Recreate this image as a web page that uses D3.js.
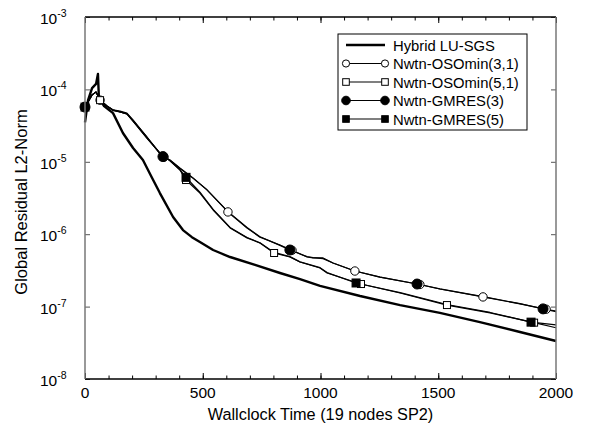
<!DOCTYPE html>
<html>
<head>
<meta charset="utf-8">
<script src="https://cdn.jsdelivr.net/npm/d3@7"></script>
<style>
    body { margin: 0; background: #fff; }
    svg { font-family: "Liberation Sans", Arial, sans-serif; }
</style>
</head>
<body>
<div class="graph"></div>
<script>
// Wallclock times (s) and residuals
const hybridT = [0, 13, 30, 47, 55, 59, 81, 119, 161, 204, 246, 285, 318, 374, 416, 454, 488, 544, 616, 722, 828, 913, 998, 1168, 1338, 1507, 1677, 1847, 2000];
const hybridR = [3.5e-5, 7.1e-5, 1.04e-4, 1.19e-4, 1.63e-4, 7.6e-5, 5.9e-5, 4.7e-5, 2.5e-5, 1.55e-5, 1.06e-5, 5.97e-6, 3.7e-6, 1.73e-6, 1.14e-6, 9.1e-7, 7.8e-7, 6.05e-7, 4.84e-7, 3.76e-7, 2.91e-7, 2.4e-7, 1.93e-7, 1.4e-7, 1.05e-7, 8.2e-8, 6.1e-8, 4.46e-8, 3.35e-8];

const oso31T = [0, 30, 47, 64, 93, 119, 149, 178, 204, 263, 318, 335, 361, 403, 459, 518, 607, 688, 743, 828, 879, 943, 968, 1011, 1053, 1146, 1253, 1422, 1507, 1690, 1847, 1958, 2000];
const oso31R = [5.7e-5, 8.4e-5, 9.2e-5, 7.1e-5, 5.9e-5, 5.2e-5, 5.0e-5, 4.7e-5, 3.8e-5, 2.2e-5, 1.32e-5, 1.16e-5, 1.06e-5, 8.2e-6, 6.0e-6, 4.1e-6, 2.03e-6, 1.22e-6, 9.1e-7, 7.1e-7, 6.0e-7, 4.84e-7, 4.7e-7, 4.7e-7, 4.0e-7, 3.1e-7, 2.56e-7, 2.02e-7, 1.75e-7, 1.36e-7, 1.09e-7, 9.2e-8, 8.7e-8];
const oso31Marks = [64, 335, 607, 879, 1146, 1422, 1690, 1958];

const oso51T = [0, 30, 47, 64, 93, 119, 149, 178, 204, 263, 318, 361, 403, 429, 488, 544, 616, 688, 743, 803, 870, 913, 998, 1028, 1172, 1338, 1537, 1720, 1907, 2000];
const oso51R = [5.7e-5, 8.4e-5, 9.2e-5, 7.1e-5, 5.9e-5, 5.2e-5, 4.9e-5, 4.6e-5, 3.66e-5, 2.13e-5, 1.32e-5, 1.03e-5, 7.7e-6, 5.6e-6, 3.7e-6, 2.16e-6, 1.22e-6, 8.9e-7, 7.55e-7, 5.5e-7, 4.84e-7, 4.13e-7, 3.41e-7, 2.91e-7, 2.05e-7, 1.54e-7, 1.05e-7, 8.2e-8, 6.0e-8, 5.1e-8];
const oso51Marks = [64, 429, 803, 1172, 1537, 1907];

const gm3T = [0, 30, 47, 64, 93, 119, 149, 178, 204, 263, 318, 331, 361, 403, 459, 518, 607, 688, 743, 828, 870, 943, 968, 1011, 1053, 1146, 1253, 1410, 1507, 1690, 1847, 1945, 2000];
const gm3R = [5.7e-5, 8.4e-5, 9.2e-5, 7.1e-5, 5.9e-5, 5.1e-5, 4.9e-5, 4.6e-5, 3.7e-5, 2.2e-5, 1.3e-5, 1.18e-5, 1.05e-5, 8.1e-6, 5.9e-6, 4.1e-6, 2.05e-6, 1.24e-6, 9.2e-7, 7.0e-7, 6.05e-7, 4.9e-7, 4.75e-7, 4.6e-7, 4.0e-7, 3.1e-7, 2.55e-7, 2.05e-7, 1.76e-7, 1.37e-7, 1.1e-7, 9.3e-8, 8.5e-8];
const gm3Marks = [0, 331, 870, 1410, 1945];

const gm5T = [0, 30, 47, 64, 93, 119, 149, 178, 204, 263, 318, 361, 403, 429, 488, 544, 616, 688, 743, 803, 870, 913, 998, 1028, 1151, 1338, 1537, 1720, 1894, 2000];
const gm5R = [5.7e-5, 8.4e-5, 9.2e-5, 7.1e-5, 5.9e-5, 5.2e-5, 4.9e-5, 4.6e-5, 3.66e-5, 2.13e-5, 1.32e-5, 1.03e-5, 7.8e-6, 6.1e-6, 3.8e-6, 2.2e-6, 1.24e-6, 9.0e-7, 7.6e-7, 5.6e-7, 4.9e-7, 4.15e-7, 3.45e-7, 2.95e-7, 2.12e-7, 1.56e-7, 1.07e-7, 8.3e-8, 6.1e-8, 5.6e-8];
const gm5Marks = [0, 429, 1151, 1894];

const seriesNames = ["Hybrid LU-SGS", "Nwtn-OSOmin(3,1)", "Nwtn-OSOmin(5,1)", "Nwtn-GMRES(3)", "Nwtn-GMRES(5)"];
const xTicks = [0, 500, 1000, 1500, 2000];
const yTicks = [1e-8, 1e-7, 1e-6, 1e-5, 1e-4, 1e-3];
const yExponents = ["-8", "-7", "-6", "-5", "-4", "-3"];

const dimensions = {
    width: 597,
    height: 425,
    margins: { top: 17, right: 41, bottom: 46, left: 85 }
};
dimensions.boundedWidth = dimensions.width - dimensions.margins.left - dimensions.margins.right;
dimensions.boundedHeight = dimensions.height - dimensions.margins.top - dimensions.margins.bottom;

const wrapper = d3.select(".graph")
    .append("svg")
        .attr("width", dimensions.width)
        .attr("height", dimensions.height);

const bounds = wrapper.append("g")
    .attr("transform", `translate(${dimensions.margins.left},${dimensions.margins.top})`);

const xScale = d3.scaleLinear()
    .domain([0, 2000])
    .range([0, dimensions.boundedWidth]);

const yScale = d3.scaleLog()
    .domain([1e-8, 1e-3])
    .range([dimensions.boundedHeight, 0]);

// series: line points plus where the markers sit
function zip(T, R) {
    return T.map((t, i) => ({ t: t, r: R[i] }));
}
const series = [
    { name: seriesNames[0], data: zip(hybridT, hybridR), marks: [], width: 2.4, symbol: null },
    { name: seriesNames[1], data: zip(oso31T, oso31R), marks: oso31Marks, width: 1.2, symbol: "circle", filled: false },
    { name: seriesNames[2], data: zip(oso51T, oso51R), marks: oso51Marks, width: 1.2, symbol: "square", filled: false },
    { name: seriesNames[3], data: zip(gm3T, gm3R), marks: gm3Marks, width: 1.2, symbol: "circle", filled: true },
    { name: seriesNames[4], data: zip(gm5T, gm5R), marks: gm5Marks, width: 1.2, symbol: "square", filled: true }
];

function drawMarker(sel, s) {
    if (s.symbol === "circle") {
        sel.append("circle")
            .attr("r", s.filled ? 5 : 4.2)
            .attr("fill", s.filled ? "black" : "white")
            .attr("stroke", "black")
            .attr("stroke-width", 1);
    } else if (s.symbol === "square") {
        const size = s.filled ? 8 : 7;
        sel.append("rect")
            .attr("x", -size / 2)
            .attr("y", -size / 2)
            .attr("width", size)
            .attr("height", size)
            .attr("fill", s.filled ? "black" : "white")
            .attr("stroke", "black")
            .attr("stroke-width", 1);
    }
}

// lines
const lineGenerator = d3.line()
    .x(d => xScale(d.t))
    .y(d => yScale(d.r));

const plot = bounds.append("g");
series.forEach(s => {
    plot.append("path")
        .attr("d", lineGenerator(s.data))
        .attr("fill", "none")
        .attr("stroke", "black")
        .attr("stroke-width", s.width)
        .attr("stroke-linejoin", "round");
});
// markers on top
series.forEach(s => {
    const pts = s.data.filter(d => s.marks.includes(d.t));
    pts.forEach(d => {
        const g = plot.append("g")
            .attr("transform", `translate(${xScale(d.t)},${yScale(d.r)})`);
        drawMarker(g, s);
    });
});

// axes, ticks pointing inward
const minorX = d3.range(0, 2001, 100);
function styleAxis(g, color) {
    g.select(".domain").remove();
    g.selectAll("line").attr("stroke", color).attr("stroke-width", 1);
}
bounds.append("g")
    .attr("transform", `translate(0,${dimensions.boundedHeight})`)
    .call(d3.axisBottom(xScale).tickValues(minorX).tickSize(-3.5).tickFormat(""))
    .call(g => styleAxis(g, "black"));
bounds.append("g")
    .attr("transform", `translate(0,${dimensions.boundedHeight})`)
    .call(d3.axisBottom(xScale).tickValues(xTicks).tickSize(-6).tickFormat(""))
    .call(g => styleAxis(g, "black"));
bounds.append("g")
    .call(d3.axisTop(xScale).tickValues(minorX).tickSize(-3.5).tickFormat(""))
    .call(g => styleAxis(g, "black"));
bounds.append("g")
    .call(d3.axisTop(xScale).tickValues(xTicks).tickSize(-6).tickFormat(""))
    .call(g => styleAxis(g, "black"));
bounds.append("g")
    .call(d3.axisLeft(yScale).tickValues(yTicks).tickSize(-5).tickFormat(""))
    .call(g => styleAxis(g, "#555"));
bounds.append("g")
    .attr("transform", `translate(${dimensions.boundedWidth},0)`)
    .call(d3.axisRight(yScale).tickValues(yTicks).tickSize(-5).tickFormat(""))
    .call(g => styleAxis(g, "#555"));

// frame
bounds.append("line").attr("x1", 0).attr("x2", dimensions.boundedWidth)
    .attr("y1", 0).attr("y2", 0).attr("stroke", "black").attr("stroke-width", 1.3);
bounds.append("line").attr("x1", 0).attr("x2", dimensions.boundedWidth)
    .attr("y1", dimensions.boundedHeight).attr("y2", dimensions.boundedHeight)
    .attr("stroke", "black").attr("stroke-width", 1.3);
bounds.append("line").attr("x1", 0).attr("x2", 0)
    .attr("y1", 0).attr("y2", dimensions.boundedHeight).attr("stroke", "#777").attr("stroke-width", 1.5);
bounds.append("line").attr("x1", dimensions.boundedWidth).attr("x2", dimensions.boundedWidth)
    .attr("y1", 0).attr("y2", dimensions.boundedHeight).attr("stroke", "#777").attr("stroke-width", 1.5);

// tick labels
bounds.append("g")
    .selectAll("text")
    .data(xTicks)
    .join("text")
        .attr("x", d => xScale(d))
        .attr("y", dimensions.boundedHeight + 19)
        .attr("text-anchor", "middle")
        .attr("font-size", 15.5)
        .text(d => d);

const yLabels = bounds.append("g")
    .selectAll("text")
    .data(yTicks)
    .join("text")
        .attr("x", -45)
        .attr("y", d => yScale(d) + 7)
        .attr("font-size", 15.5);
yLabels.append("tspan").text("10");
yLabels.append("tspan")
    .attr("dy", -7)
    .attr("font-size", 10.5)
    .text((d, i) => yExponents[i]);

// axis titles
wrapper.append("text")
    .attr("x", dimensions.margins.left + dimensions.boundedWidth / 2)
    .attr("y", 420)
    .attr("text-anchor", "middle")
    .attr("font-size", 16.3)
    .text("Wallclock Time (19 nodes SP2)");
wrapper.append("text")
    .attr("transform", `translate(27,${dimensions.margins.top + dimensions.boundedHeight / 2 + 4}) rotate(-90)`)
    .attr("text-anchor", "middle")
    .attr("font-size", 16.5)
    .text("Global Residual L2-Norm");

// legend
const legend = wrapper.append("g").attr("transform", "translate(338,34)");
legend.append("rect")
    .attr("width", 189)
    .attr("height", 96)
    .attr("fill", "white")
    .attr("stroke", "black")
    .attr("stroke-width", 1);
series.forEach((s, i) => {
    const row = legend.append("g").attr("transform", `translate(0,${11 + i * 18.5})`);
    row.append("line")
        .attr("x1", 8).attr("x2", 47)
        .attr("stroke", "black")
        .attr("stroke-width", s.width);
    if (s.symbol) {
        [8, 47].forEach(x => {
            const m = row.append("g").attr("transform", `translate(${x},0)`);
            drawMarker(m, { symbol: s.symbol, filled: s.filled });
            m.select("circle").attr("r", s.filled ? 4.3 : 3.6);
            m.select("rect").attr("x", -3.3).attr("y", -3.3).attr("width", 6.6).attr("height", 6.6);
        });
    }
    row.append("text")
        .attr("x", 55)
        .attr("y", 5.5)
        .attr("font-size", 14.8)
        .text(s.name);
});
</script>
</body>
</html>
